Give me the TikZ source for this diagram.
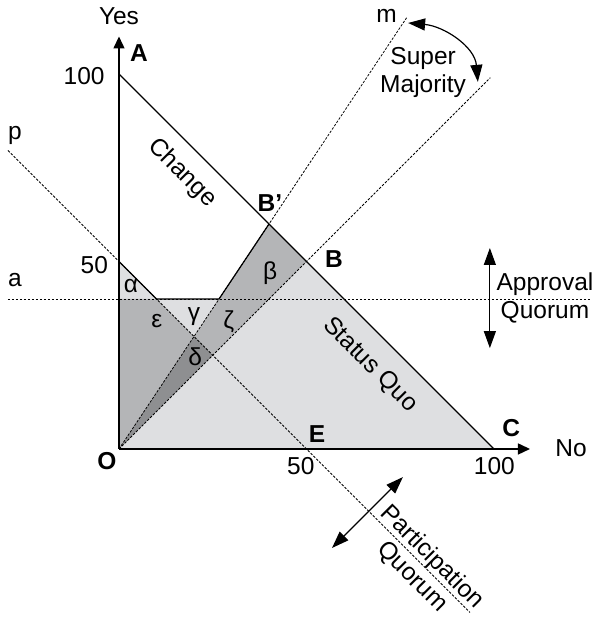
\documentclass[tikz,border=0pt]{standalone}
\usepackage{fontspec}
\setmainfont{Liberation Sans}
\usetikzlibrary{arrows.meta, positioning}

\definecolor{lightshade}{RGB}{222,223,225}
\definecolor{midshade}{RGB}{180,181,183}
\definecolor{darkshade}{RGB}{142,143,145}

\begin{document}
\begin{tikzpicture}[
  x=3.75pt, y=3.75pt,
  font=\fontsize{24.5}{28}\selectfont,
  axis/.style={line width=1.5pt, -{Triangle[length=12pt, width=11pt]}},
  border/.style={line width=1.2pt, line join=round},
  guide/.style={line width=0.8pt, dash pattern=on 2.5pt off 1.5pt},
  dblarrow/.style={line width=1.2pt, {Triangle[length=17pt, width=12pt]}-{Triangle[length=17pt, width=12pt]}},
  lbl/.style={inner sep=0pt},
  pnt/.style={inner sep=0pt, font=\fontsize{24.5}{28}\selectfont\bfseries}
]
\useasboundingbox (-31.73,-45.07) rectangle (127.2,119.73);

% Key points
\coordinate (O) at (0,0);
\coordinate (A) at (0,100);
\coordinate (C) at (100,0);
\coordinate (B) at (50,50);
\coordinate (Bp) at (40,60);
\coordinate (E) at (50,0);
\coordinate (Y50) at (0,50);
\coordinate (a0) at (0,40);
\coordinate (pa) at (10,40);
\coordinate (ma) at (80/3,40);
\coordinate (pm) at (20,30);
\coordinate (pb) at (25,25);

% Shaded regions
\fill[lightshade] (O) -- (Y50) -- (pa) -- (ma) -- (Bp) -- (C) -- cycle;
\fill[midshade] (O) -- (a0) -- (pa) -- (pm) -- cycle;
\fill[midshade] (pm) -- (ma) -- (Bp) -- (B) -- (pb) -- cycle;
\fill[darkshade] (O) -- (pm) -- (pb) -- cycle;

% Quorum and majority lines
\coordinate (pstart) at (-29.6,79.6);
\coordinate (pstop) at (93.6,-43.6);
\coordinate (astart) at (-29.6,40);
\coordinate (astop) at (125.6,40);
\coordinate (mstop) at (76.7,115);
\coordinate (qstop) at (99,99);
\draw[guide] (pstart) -- (pstop);
\draw[guide] (astart) -- (astop);
\draw[guide] (O) -- (mstop);
\draw[guide] (O) -- (qstop);

% Borders
\draw[border] (A) -- (C);
\draw[border] (Y50) -- (pa) -- (ma) -- (Bp);

% Axes
\coordinate (ytip) at (0,110);
\coordinate (xtip) at (109.6,0);
\draw[axis] (O) -- (ytip);
\draw[axis] (O) -- (xtip);

% Quorum arrows
\coordinate (apup) at (98.9,53.6);
\coordinate (apdn) at (98.9,26.9);
\draw[dblarrow] (apdn) -- (apup);
\coordinate (pqlo) at (56.8,-26.4);
\coordinate (pqhi) at (75.7,-7.5);
\draw[dblarrow] (pqlo) -- (pqhi);
\coordinate (smleft) at (77.1,113.6);
\coordinate (smright) at (95.7,97.9);
\draw[dblarrow] (smleft) to[out=-5, in=95] (smright);

% Axis labels
\node[lbl, above=12pt of ytip] (yes) {Yes};
\node[lbl, anchor=base west] (no) at (116.3,-2.1) {No};
\node[lbl, anchor=base east] (y100) at (-3.8,97.1) {100};
\node[lbl, anchor=base east] (y50) at (-2.9,46.9) {50};
\node[lbl, anchor=base west] (x50) at (44.8,-6.9) {50};
\node[lbl, anchor=base west] (x100) at (94.6,-6.9) {100};
\node[lbl, anchor=base west] (plbl) at (-29.6,82.4) {p};
\node[lbl, anchor=base west] (albl) at (-29.6,43.2) {a};
\node[lbl, anchor=base west] (mlbl) at (68.6,113.6) {m};

% Points
\node[pnt, anchor=base west] (Albl) at (2.9,103.2) {A};
\node[pnt, anchor=base west] (Bplbl) at (36.9,63.2) {B’};
\node[pnt, anchor=base west] (Blbl) at (54.9,48.3) {B};
\node[pnt, anchor=base west] (Olbl) at (-5.8,-5.6) {O};
\node[pnt, anchor=base west] (Elbl) at (50.6,1.6) {E};
\node[pnt, anchor=base west] (Clbl) at (102.2,3.2) {C};

% Regions
\node[lbl] (alpha) at (3.2,43.5) {α};
\node[lbl] (beta) at (40.3,46.9) {β};
\node[lbl] (gamma) at (20,35.2) {γ};
\node[lbl] (delta) at (20.3,24.5) {δ};
\node[lbl] (epsilon) at (10.1,34.1) {ε};
\node[lbl] (zeta) at (29.3,33.9) {ζ};
\node[lbl, rotate=-45] (change) at (16.8,73.6) {Change};
\node[lbl, rotate=-45] (sq) at (66.9,22.4) {Status Quo};

% Quorum texts
\node[lbl, align=center] (appr) at (113.6,40.3) {Approval\\Quorum};
\node[lbl, align=center, rotate=-45] (part) at (80.8,-31.5) {Participation\\Quorum};
\node[lbl, align=center] (smaj) at (81.1,100.5) {Super\\Majority};

\end{tikzpicture}
\end{document}
